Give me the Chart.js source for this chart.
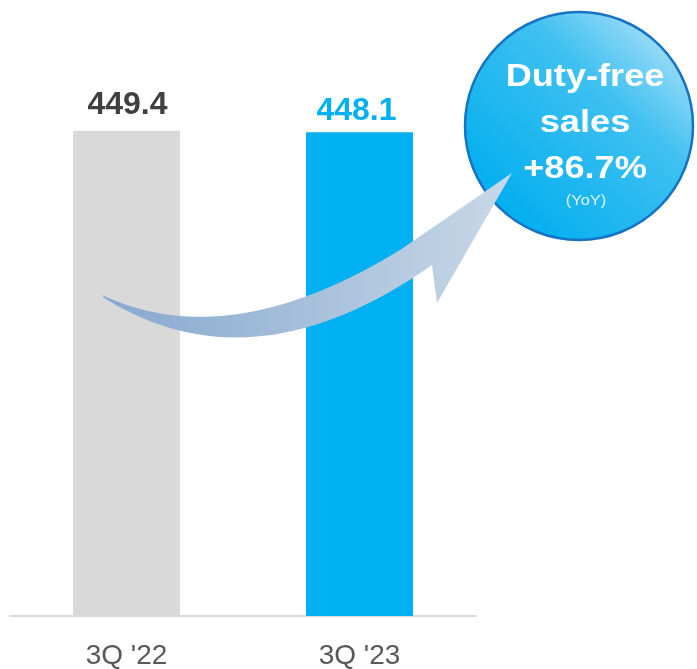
<!DOCTYPE html>
<html>
<head>
<meta charset="utf-8">
<script src="https://cdn.jsdelivr.net/npm/chart.js@4.4.1/dist/chart.umd.min.js"></script>
<style>
  html, body { margin: 0; padding: 0; background: #fff; }
  #wrap { width: 697px; height: 669px; position: relative; }
</style>
</head>
<body>
<div id="wrap"><canvas id="chart"></canvas></div>
<script>
const categories = ["3Q '22", "3Q '23"];
const sales = [449.4, 448.1];
const valueLabels = ["449.4", "448.1"];
const calloutLines = ["Duty-free", "sales", "+86.7%"];
const calloutNote = "(YoY)";

const barColors = ["#d9d9d9", "#00b0f0"];
const labelColors = ["#404040", "#00b0f0"];
const labelGaps = [17, 12];

// circle callout + curved arrow on top of the bars
const calloutPlugin = {
  id: "calloutPlugin",
  afterDatasetsDraw(c) {
    const ctx = c.ctx;
    const cx = 579, cy = 126, r = 114;
    ctx.save();
    const g = ctx.createLinearGradient(690, 20, 500, 220);
    g.addColorStop(0, "#c2e8f9");
    g.addColorStop(0.4, "#3fc0f1");
    g.addColorStop(1, "#00aeef");
    ctx.beginPath();
    ctx.arc(cx, cy, r, 0, Math.PI * 2);
    ctx.fillStyle = g;
    ctx.fill();
    ctx.lineWidth = 2.5;
    ctx.strokeStyle = "#1673c4";
    ctx.stroke();

    const ag = ctx.createLinearGradient(100, 0, 512, 0);
    ag.addColorStop(0, "#87a8cf");
    ag.addColorStop(0.5, "#a6bfda");
    ag.addColorStop(1, "#c8d9e8");
    ctx.beginPath();
    ctx.moveTo(102, 295);
    ctx.quadraticCurveTo(229, 355, 400, 250);
    ctx.lineTo(512, 173);
    ctx.lineTo(437, 303);
    ctx.lineTo(432, 265);
    ctx.quadraticCurveTo(253, 391, 104, 298);
    ctx.closePath();
    ctx.fillStyle = ag;
    ctx.fill();

    ctx.fillStyle = "#ffffff";
    ctx.textAlign = "center";
    ctx.textBaseline = "alphabetic";
    const baselines = [86, 132, 178];
    calloutLines.forEach((t, i) => {
      ctx.save();
      ctx.translate(585, baselines[i]);
      ctx.scale(1.13, 1);
      ctx.font = "bold 32px 'Liberation Sans', Arial, sans-serif";
      ctx.fillText(t, 0, 0);
      ctx.restore();
    });
    ctx.save();
    ctx.translate(586, 205);
    ctx.scale(1.1, 1);
    ctx.font = "15px 'Liberation Sans', Arial, sans-serif";
    ctx.fillStyle = "rgba(235, 248, 254, 0.95)";
    ctx.fillText(calloutNote, 0, 0);
    ctx.restore();
    ctx.restore();
  }
};

const valueLabelPlugin = {
  id: "valueLabelPlugin",
  afterDatasetsDraw(c) {
    const ctx = c.ctx;
    const meta = c.getDatasetMeta(0);
    ctx.save();
    ctx.font = "bold 32px 'Liberation Sans', Arial, sans-serif";
    ctx.textAlign = "center";
    ctx.textBaseline = "alphabetic";
    meta.data.forEach((bar, i) => {
      ctx.fillStyle = labelColors[i];
      ctx.fillText(valueLabels[i], bar.x + (i === 0 ? 1 : -3), bar.y - labelGaps[i]);
    });
    ctx.restore();
  }
};

new Chart(document.getElementById("chart"), {
  type: "bar",
  data: {
    labels: categories,
    datasets: [{
      data: sales,
      backgroundColor: barColors,
      borderWidth: 0,
      barPercentage: 0.459,
      categoryPercentage: 1
    }]
  },
  options: {
    responsive: true,
    maintainAspectRatio: false,
    animation: false,
    layout: { padding: { top: 33, left: 10, right: 221, bottom: 0 } },
    plugins: { legend: { display: false }, tooltip: { enabled: false } },
    scales: {
      x: {
        grid: { display: false, drawTicks: false },
        border: { display: true, color: "#d9d9d9", width: 2 },
        ticks: {
          color: "#595959",
          padding: 25,
          font: { family: "'Liberation Sans', Arial, sans-serif", size: 28, lineHeight: 1.1 }
        },
        afterFit(scale) { scale.height = 53; }
      },
      y: {
        display: false,
        min: 0,
        max: 540
      }
    }
  },
  plugins: [calloutPlugin, valueLabelPlugin]
});
</script>
</body>
</html>
